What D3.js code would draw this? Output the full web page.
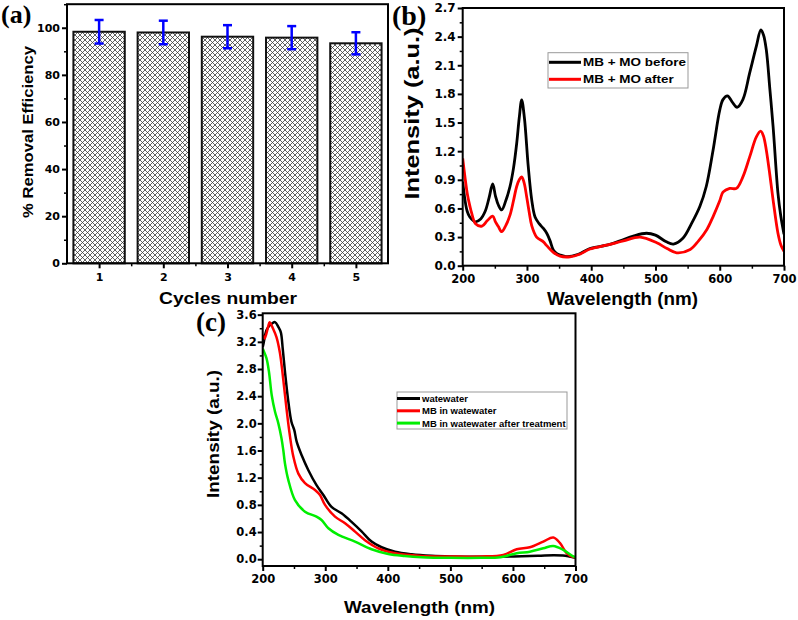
<!DOCTYPE html>
<html><head><meta charset="utf-8">
<script src="https://cdn.jsdelivr.net/npm/d3@7"></script>
<style>body{margin:0;background:#fff} svg{display:block}</style>
</head><body><svg id="fig" width="798" height="620"></svg>
<script>
// ---------- data ----------
const cycles = [1, 2, 3, 4, 5];
const removal = [98.3, 98.0, 96.2, 95.8, 93.4];
const removalErr = [5.0, 5.0, 4.9, 4.9, 4.7];
const ticksA = [0, 20, 40, 60, 80, 100];

const wlBefore = [200,203.5,207,211,219.7,228,235,241,246.7,251,255.5,260.7,267,273.6,279,284,288,291.8,296,302,307.4,312.6,319,325.6,330.8,336,341,346,351.5,362,380,398,424,445,465.5,486,500,517,528,543,556,569,579,589.6,600,605,612,619,627,636,646.6,657,664,668,672.5,678,683,690.6,695,700];
const intBefore = [0.88,0.69,0.57,0.51,0.46,0.49,0.57,0.71,0.856,0.73,0.636,0.584,0.68,0.83,1.02,1.28,1.55,1.736,1.55,1.04,0.69,0.51,0.44,0.39,0.34,0.26,0.165,0.13,0.112,0.095,0.12,0.18,0.215,0.26,0.31,0.34,0.32,0.25,0.227,0.29,0.44,0.62,0.83,1.21,1.63,1.74,1.78,1.72,1.66,1.74,2.02,2.3,2.47,2.42,2.26,1.85,1.46,0.76,0.52,0.33];
const wlAfter = [200,203.5,207,211,214,220,230,238,246.7,251,255.5,260.7,267,273.6,279,284,288,291.8,295.5,299.6,303.5,307.4,315,325.6,330.8,341,351.5,367,382,398,424,450,476,502,518,533,554,567,580,590,600,605,615.5,626,636,646.6,657,663.7,668,672.5,678,683,690.6,695,700];
const intAfter = [1.125,0.93,0.76,0.63,0.55,0.44,0.415,0.47,0.52,0.46,0.41,0.356,0.42,0.53,0.68,0.83,0.9,0.93,0.87,0.72,0.56,0.42,0.30,0.25,0.21,0.14,0.10,0.093,0.12,0.175,0.215,0.26,0.30,0.24,0.18,0.135,0.17,0.26,0.38,0.52,0.68,0.77,0.81,0.81,0.93,1.14,1.35,1.41,1.36,1.21,0.95,0.69,0.34,0.22,0.15];
const legendB = ["MB + MO before", "MB + MO after"];
const ticksBy = [0, 0.3, 0.6, 0.9, 1.2, 1.5, 1.8, 2.1, 2.4, 2.7];
const ticksWl = [200, 300, 400, 500, 600, 700];

const wlWaste = [200,201,206,211,215,219.7,225,229,232,235.6,241,246,250.5,254.3,262.3,273,286,297,310,326,342,358,374,390,411.5,438,470,500,550,600,640,665,680,690,700];
const intWaste = [3.12,3.16,3.37,3.44,3.47,3.49,3.42,3.34,3.1,2.76,2.32,2.02,1.9,1.73,1.53,1.31,1.09,0.945,0.77,0.675,0.55,0.41,0.26,0.176,0.11,0.073,0.05,0.04,0.035,0.04,0.05,0.06,0.055,0.04,0.02];
const wlMB = [200,203,208.6,211,216.8,222,227.5,232.7,238,243,249,257,267.6,283.6,291.6,299.6,315.6,331.6,347.6,363.5,384.8,411.5,454,500,550,584.6,606,627,648.5,664.5,675,686,696.5,700];
const intMB = [3.3,3.25,3.42,3.49,3.39,3.27,3.04,2.66,2.22,1.85,1.51,1.26,1.12,1.02,0.945,0.80,0.626,0.53,0.406,0.28,0.16,0.088,0.048,0.04,0.04,0.063,0.147,0.176,0.26,0.32,0.24,0.088,0.03,0.025];
const wlTreated = [200,201,206,210,214.5,219.7,225,230,233,235.6,241,251.6,267.6,286,294,305,321,347.5,374,400.7,427,454,500,550,580,606,627,648.5,664.5,680.5,696.5,700];
const intTreated = [3.1,3.08,2.96,2.76,2.41,2.17,2.0,1.78,1.6,1.41,1.165,0.87,0.70,0.626,0.577,0.455,0.357,0.259,0.147,0.078,0.048,0.03,0.02,0.02,0.03,0.088,0.11,0.16,0.195,0.137,0.04,0.03];
const legendC = ["watewater", "MB in watewater", "MB in watewater after treatment"];
const ticksCy = [0, 0.4, 0.8, 1.2, 1.6, 2.0, 2.4, 2.8, 3.2, 3.6];

// ---------- helpers ----------
const svg = d3.select("#fig");
const SANS = "'Liberation Sans', Arial, sans-serif";
const TICKF = "'DejaVu Sans', sans-serif";
const SERIF = "'Liberation Serif', 'Times New Roman', serif";

function styleAxis(g, fs) {
  g.attr("font-family", TICKF).attr("font-size", fs).attr("font-weight", "bold");
  g.select("path.domain").remove();
  g.selectAll("line").attr("stroke", "#000").attr("stroke-width", 2);
  g.selectAll("text").attr("fill", "#000");
}
function minorAxis(axisFn, scale, vals, tx, ty) {
  const g = svg.append("g").attr("transform", `translate(${tx},${ty})`)
    .call(axisFn(scale).tickValues(vals).tickSize(3).tickFormat(""));
  g.select("path.domain").remove();
  g.selectAll("line").attr("stroke", "#000").attr("stroke-width", 1.5);
}
function frame(x0, y0, x1, y1) {
  svg.append("rect").attr("x", x0).attr("y", y0).attr("width", x1 - x0).attr("height", y1 - y0)
    .attr("fill", "none").attr("stroke", "#000").attr("stroke-width", 2);
}
function title(txt, x, y, fs, len, rotate) {
  const t = svg.append("text").text(txt).attr("font-family", SANS).attr("font-weight", "bold")
    .attr("font-size", fs).attr("text-anchor", "middle").attr("fill", "#000")
    .attr("textLength", len).attr("lengthAdjust", "spacingAndGlyphs");
  if (rotate) t.attr("transform", `translate(${x},${y}) rotate(-90)`);
  else t.attr("x", x).attr("y", y);
}
function panelLabel(txt, x, y, fs) {
  svg.append("text").text(txt).attr("x", x).attr("y", y).attr("font-family", SERIF)
    .attr("font-weight", "bold").attr("font-size", fs).attr("fill", "#000");
}

// ---------- panel (a) ----------
const ax0 = 67, ax1 = 388, ay0 = 4.2, ay1 = 263.3;
const xA = d3.scaleLinear().domain([0.5, 5.5]).range([ax0, ax1]);
const yA = d3.scaleLinear().domain([0, 110]).range([ay1, ay0]);

const defs = svg.append("defs");
const P = 5;
const pat = defs.append("pattern").attr("id", "hatch").attr("patternUnits", "userSpaceOnUse")
  .attr("width", P).attr("height", P);
pat.append("rect").attr("width", P).attr("height", P).attr("fill", "#fff");
pat.append("path").attr("d", `M0,0 L${P},${P} M${P},0 L0,${P} M-1,1 L1,-1 M${P-1},${P+1} L${P+1},${P-1} M-1,${P-1} L1,${P+1} M${P-1},-1 L${P+1},1`)
  .attr("stroke", "#3a3a3a").attr("stroke-width", 0.8);

svg.append("g").selectAll("rect").data(cycles).join("rect")
  .attr("x", d => xA(d - 0.4)).attr("width", xA(1.4) - xA(0.6))
  .attr("y", (d, i) => yA(removal[i])).attr("height", (d, i) => yA(0) - yA(removal[i]))
  .attr("fill", "url(#hatch)").attr("stroke", "#111").attr("stroke-width", 2);

const eb = svg.append("g").attr("stroke", "#0000ff").attr("stroke-width", 2.5).attr("fill", "none");
cycles.forEach((c, i) => {
  const lo = removal[i] - removalErr[i], hi = removal[i] + removalErr[i];
  eb.append("line").attr("x1", xA(c)).attr("x2", xA(c)).attr("y1", yA(lo)).attr("y2", yA(hi));
  eb.append("line").attr("x1", xA(c) - 4.5).attr("x2", xA(c) + 4.5).attr("y1", yA(lo)).attr("y2", yA(lo));
  eb.append("line").attr("x1", xA(c) - 4.5).attr("x2", xA(c) + 4.5).attr("y1", yA(hi)).attr("y2", yA(hi));
});

minorAxis(d3.axisLeft, yA, [10, 30, 50, 70, 90, 110], ax0, 0);
minorAxis(d3.axisBottom, xA, [1.5, 2.5, 3.5, 4.5], 0, ay1);
svg.append("g").attr("transform", `translate(${ax0},0)`)
  .call(d3.axisLeft(yA).tickValues(ticksA).tickSize(5).tickPadding(2)).call(g => styleAxis(g, 11));
svg.append("g").attr("transform", `translate(0,${ay1})`)
  .call(d3.axisBottom(xA).tickValues(cycles).tickSize(5).tickPadding(5).tickFormat(d3.format("d"))).call(g => styleAxis(g, 11));
frame(ax0, ay0, ax1, ay1);
panelLabel("(a)", 1, 23, 26);
title("% Removal Efficiency", 33, 132, 15, 172, true);
title("Cycles number", 228, 304, 17, 138, false);

// ---------- panel (b) ----------
const bx0 = 462.7, bx1 = 784, by0 = 8, by1 = 265.7;
const xB = d3.scaleLinear().domain([200, 700]).range([bx0, bx1]);
const yB = d3.scaleLinear().domain([0, 2.7]).range([by1, by0]);
defs.append("clipPath").attr("id", "clipB").append("rect")
  .attr("x", bx0).attr("y", by0).attr("width", bx1 - bx0).attr("height", by1 - by0);
const lineB = d3.line().x(d => xB(d[0])).y(d => yB(d[1])).curve(d3.curveCatmullRom.alpha(0.5));
const gB = svg.append("g").attr("clip-path", "url(#clipB)");
gB.append("path").attr("d", lineB(d3.zip(wlBefore, intBefore))).attr("fill", "none")
  .attr("stroke", "#000").attr("stroke-width", 2.8).attr("stroke-linejoin", "round");
gB.append("path").attr("d", lineB(d3.zip(wlAfter, intAfter))).attr("fill", "none")
  .attr("stroke", "#ff0000").attr("stroke-width", 2.8).attr("stroke-linejoin", "round");

minorAxis(d3.axisLeft, yB, [0.15, 0.45, 0.75, 1.05, 1.35, 1.65, 1.95, 2.25, 2.55], bx0, 0);
minorAxis(d3.axisBottom, xB, [250, 350, 450, 550, 650], 0, by1);
svg.append("g").attr("transform", `translate(${bx0},0)`)
  .call(d3.axisLeft(yB).tickValues(ticksBy).tickSize(5).tickPadding(2).tickFormat(d3.format(".1f"))).call(g => styleAxis(g, 12));
svg.append("g").attr("transform", `translate(0,${by1})`)
  .call(d3.axisBottom(xB).tickValues(ticksWl).tickSize(5).tickPadding(4).tickFormat(d3.format("d"))).call(g => styleAxis(g, 11.5));
frame(bx0, by0, bx1, by1);
panelLabel("(b)", 392, 25, 28);
title("Intensity (a.u.)", 419, 113.5, 21, 172, true);
title("Wavelength (nm)", 622.5, 305, 18, 151, false);

// legend (b)
const lgB = svg.append("g");
lgB.append("rect").attr("x", 548).attr("y", 52.7).attr("width", 140).attr("height", 35.3)
  .attr("fill", "#fff").attr("stroke", "#999").attr("stroke-width", 1);
const colB = ["#000", "#ff0000"], lenB = [103, 90.7];
legendB.forEach((s, i) => {
  const y = 62.3 + i * 17;
  lgB.append("line").attr("x1", 549).attr("x2", 581).attr("y1", y).attr("y2", y)
    .attr("stroke", colB[i]).attr("stroke-width", 3);
  lgB.append("text").text(s).attr("x", 583).attr("y", y + 3.9).attr("font-family", SANS)
    .attr("font-weight", "bold").attr("font-size", 11).attr("fill", "#000")
    .attr("textLength", lenB[i]).attr("lengthAdjust", "spacingAndGlyphs");
});

// ---------- panel (c) ----------
const cx0 = 262.7, cx1 = 575.5, cy0 = 313.3, cy1 = 566;
const xC = d3.scaleLinear().domain([200, 700]).range([cx0, cx1]);
const yC = d3.scaleLinear().domain([-0.1, 3.62]).range([cy1, cy0]);
defs.append("clipPath").attr("id", "clipC").append("rect")
  .attr("x", cx0).attr("y", cy0).attr("width", cx1 - cx0).attr("height", cy1 - cy0);
const lineC = d3.line().x(d => xC(d[0])).y(d => yC(d[1])).curve(d3.curveCatmullRom.alpha(0.5));
const gC = svg.append("g").attr("clip-path", "url(#clipC)");
const seriesC = [[wlWaste, intWaste, "#000"], [wlMB, intMB, "#ff0000"], [wlTreated, intTreated, "#00ee00"]];
seriesC.forEach(([w, v, c]) => {
  gC.append("path").attr("d", lineC(d3.zip(w, v))).attr("fill", "none")
    .attr("stroke", c).attr("stroke-width", 2.5).attr("stroke-linejoin", "round");
});

minorAxis(d3.axisLeft, yC, [0.2, 0.6, 1.0, 1.4, 1.8, 2.2, 2.6, 3.0, 3.4], cx0, 0);
minorAxis(d3.axisBottom, xC, [250, 350, 450, 550, 650], 0, cy1);
svg.append("g").attr("transform", `translate(${cx0},0)`)
  .call(d3.axisLeft(yC).tickValues(ticksCy).tickSize(5).tickPadding(1).tickFormat(d3.format(".1f"))).call(g => styleAxis(g, 11.5));
svg.append("g").attr("transform", `translate(0,${cy1})`)
  .call(d3.axisBottom(xC).tickValues(ticksWl).tickSize(5).tickPadding(4).tickFormat(d3.format("d"))).call(g => styleAxis(g, 11.5));
frame(cx0, cy0, cx1, cy1);
panelLabel("(c)", 196, 331, 27);
title("Intensity (a.u.)", 218.7, 434, 16, 128, true);
title("Wavelength (nm)", 419.5, 613, 17, 151, false);

// legend (c)
const lgC = svg.append("g");
lgC.append("rect").attr("x", 397).attr("y", 392).attr("width", 170).attr("height", 37)
  .attr("fill", "#fff").attr("stroke", "#999").attr("stroke-width", 1);
const colC = ["#000", "#ff0000", "#00ee00"];
legendC.forEach((s, i) => {
  const y = 398.5 + i * 12.3;
  lgC.append("line").attr("x1", 397).attr("x2", 420).attr("y1", y).attr("y2", y)
    .attr("stroke", colC[i]).attr("stroke-width", 3);
  lgC.append("text").text(s).attr("x", 422).attr("y", y + 3.4).attr("font-family", SANS)
    .attr("font-weight", "bold").attr("font-size", 9.5).attr("fill", "#000");
});
</script>
</body></html>
